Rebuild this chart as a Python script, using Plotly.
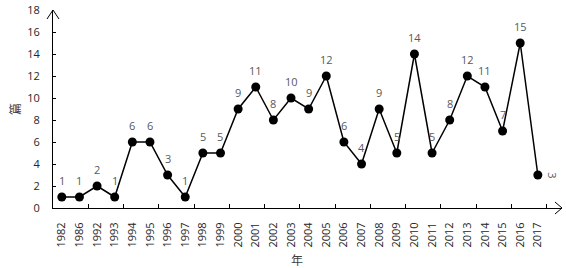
import plotly.graph_objects as go

years = ["1982", "1986", "1992", "1993", "1994", "1995", "1996", "1997", "1998", "1999",
         "2000", "2001", "2002", "2003", "2004", "2005", "2006", "2007", "2008", "2009",
         "2010", "2011", "2012", "2013", "2014", "2015", "2016", "2017"]
counts = [1, 1, 2, 1, 6, 6, 3, 1, 5, 5, 9, 11, 8, 10, 9, 12, 6, 4, 9, 5, 14, 5, 8, 12, 11, 7, 15, 3]
y_ticks = [0, 2, 4, 6, 8, 10, 12, 14, 16, 18]
x_title = "年"
y_title = "篇"

FONT = "'Open Sans', Lato, sans-serif"
W, H = 566, 268
L, R, T = 53, 4, 10
ph = 198
B = H - T - ph
pw = W - L - R

idx = list(range(len(years)))

fig = go.Figure()
fig.add_trace(go.Scatter(
    x=idx, y=counts, mode="lines+markers",
    line=dict(color="black", width=1.5),
    marker=dict(color="black", size=9),
    hoverinfo="skip", showlegend=False,
))


def px(xp):  # page pixel -> paper x
    return (xp - L) / pw


def py(yp):  # page pixel -> paper y
    return (T + ph - yp) / ph


annotations = []
for i, v in enumerate(counts):
    last = i == len(counts) - 1
    annotations.append(dict(
        x=i, y=v, xref="x", yref="y", text=str(v), showarrow=False,
        yshift=0 if last else 17, xshift=15 if last else 0,
        textangle=90 if last else 0,
        font=dict(family=FONT, size=11, color="#595959"),
    ))

annotations.append(dict(
    x=px(297), y=py(259), xref="paper", yref="paper",
    text=x_title, showarrow=False, xanchor="center", yanchor="middle",
    font=dict(family="Noto Sans CJK SC", size=12, color="#404040"),
))
annotations.append(dict(
    x=px(14), y=0.5, xref="paper", yref="paper",
    text=y_title, showarrow=False, xanchor="center", yanchor="middle",
    textangle=-90,
    font=dict(family="Noto Sans CJK SC", size=12, color="#404040"),
))

shapes = [
    dict(type="path", xref="paper", yref="paper",
         path=f"M {px(47)} {py(19)} L {px(53)} {py(10)} L {px(59)} {py(19)}",
         line=dict(color="black", width=1)),
    dict(type="path", xref="paper", yref="paper",
         path=f"M {px(555)} {py(202)} L {px(562)} {py(208)} L {px(555)} {py(214)}",
         line=dict(color="black", width=1)),
]

fig.update_layout(
    width=W, height=H,
    margin=dict(l=L, r=R, t=T, b=B, pad=0, autoexpand=False),
    paper_bgcolor="white", plot_bgcolor="white",
    font=dict(family=FONT, size=11, color="#262626"),
    annotations=annotations,
    shapes=shapes,
    xaxis=dict(
        range=[-0.5, 28.37],
        tickmode="array", tickvals=idx, ticktext=years,
        tickangle=-90, ticks="", showgrid=False, zeroline=False,
        showline=True, linecolor="black", linewidth=1,
        ticklabelstandoff=9, automargin=False, ticklabeloverflow="allow",
        tickfont=dict(family=FONT, size=11, color="#262626"),
        minor=dict(tickvals=[i + 1.5 for i in range(0, len(years), 2)],
                   ticks="inside", ticklen=4, tickcolor="black", tickwidth=1, showgrid=False),
    ),
    yaxis=dict(
        range=[0, 18], tickmode="array", tickvals=y_ticks,
        ticks="inside", ticklen=3, tickcolor="black",
        showgrid=False, zeroline=False,
        showline=True, linecolor="black", linewidth=1,
        ticklabelstandoff=10, automargin=False, ticklabeloverflow="allow",
        tickfont=dict(family=FONT, size=11, color="#262626"),
    ),
)

fig.write_html(
    "out.html",
    config={"displayModeBar": False, "staticPlot": True},
    post_script="document.body.style.margin='0';document.body.style.overflow='hidden';",
)
